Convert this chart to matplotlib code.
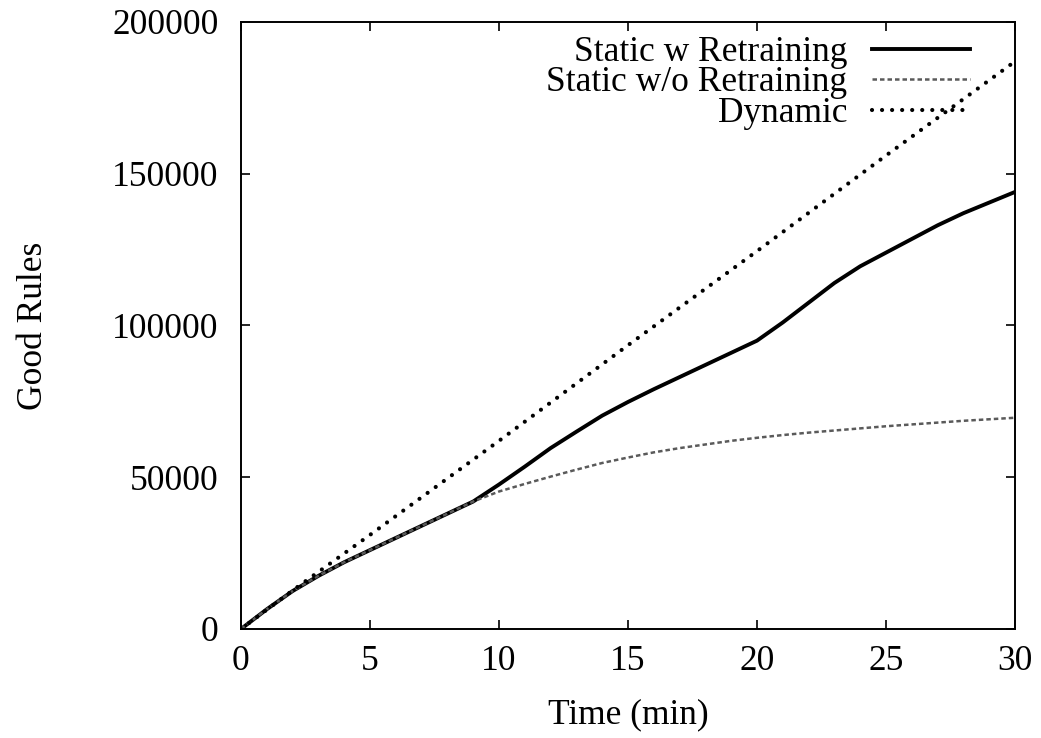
"""Good rules discovered over time: static vs dynamic rule learning."""

import matplotlib

matplotlib.use("Agg")
import matplotlib.pyplot as plt

plt.rcParams["font.family"] = ["Liberation Serif", "DejaVu Serif"]

# Data
time_min = list(range(0, 31))
static_retrain = [
    0, 6500, 12500, 17500, 22000, 26000, 30000, 34000, 38000, 42000,
    47600, 53500, 59600, 65000, 70300, 74800, 79000, 83000, 87000, 91000,
    95000, 101000, 107500, 114000, 119500, 124000, 128500, 133000, 137000,
    140500, 144000,
]
static_no_retrain = [
    0, 6500, 12500, 17500, 22000, 26000, 30000, 34000, 38000, 42000,
    45300, 47800, 50200, 52500, 54700, 56500, 58200, 59600, 60800, 62000,
    63000, 63900, 64700, 65400, 66100, 66800, 67400, 68000, 68600, 69100,
    69600,
]
dynamic_time = [0, 2, 5, 10, 15, 20, 25, 30]
dynamic = [0, 12700, 31000, 62000, 93500, 124500, 156000, 187000]

x_ticks = [0, 5, 10, 15, 20, 25, 30]
y_ticks = [0, 50000, 100000, 150000, 200000]

FS = 25.5

fig = plt.figure(figsize=(10.41, 7.38), dpi=100)
ax = fig.add_axes([0.2315, 0.1477, 0.7435, 0.8225])

ax.plot(time_min, static_retrain, color="black", lw=2.8, label="Static w Retraining")
ax.plot(time_min, static_no_retrain, color="#5a5a5a", lw=1.8, ls=(0, (1.8, 1.2)),
        label="Static w/o Retraining")
ax.plot(dynamic_time, dynamic, color="black", lw=3.0, ls=(0, (0.01, 2.4)),
        dash_capstyle="round", label="Dynamic")

ax.set_xlim(0, 30)
ax.set_ylim(0, 200000)
ax.set_xticks(x_ticks)
ax.set_yticks(y_ticks)
ax.tick_params(direction="in", length=6.5, width=1.2, top=True, right=True,
               labelsize=FS)
ax.tick_params(axis="x", pad=11.5)
ax.tick_params(axis="y", pad=16)
for sp in ax.spines.values():
    sp.set_linewidth(1.4)

ax.set_xlabel("Time (min)", fontsize=FS)
ax.set_ylabel("Good Rules", fontsize=FS)
ax.xaxis.set_label_coords(0.5, -0.115)
ax.yaxis.set_label_coords(-0.247, 0.5)

ax.legend(loc="upper right", bbox_to_anchor=(0.942, 0.977), frameon=False,
          markerfirst=False, fontsize=FS, handlelength=2.77, handletextpad=0.7,
          labelspacing=-0.07, borderpad=0, borderaxespad=0)

fig.savefig("out.png", dpi=100)
plt.close(fig)
